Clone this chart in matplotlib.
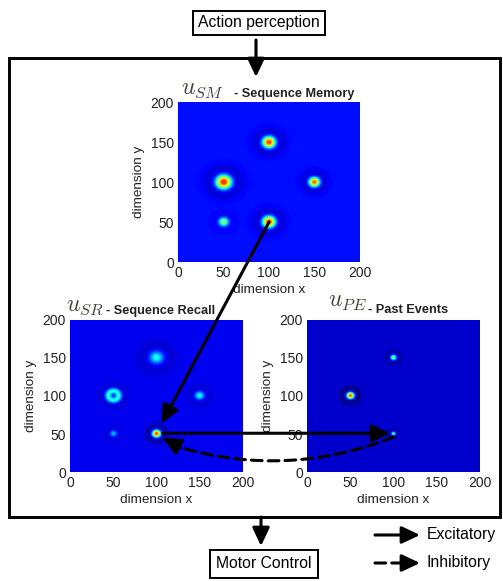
import matplotlib.pyplot as plt
import numpy as np
from matplotlib.patches import Rectangle, ConnectionPatch, FancyArrowPatch

plt.rcParams['font.family'] = ['Liberation Sans', 'DejaVu Sans']
plt.rcParams['mathtext.fontset'] = 'cm'

W, H = 503, 581

# activity bumps: centre x, centre y, peak above baseline, width
SM_X = [100, 50, 150, 50, 100]
SM_Y = [150, 100, 100, 50, 50]
SM_AMP = [0.74, 0.76, 0.70, 0.42, 0.74]
SM_WIDTH = [5.0, 6.0, 4.2, 3.8, 5.0]
SM_RING = [0, 0, 0, 0, 0]
SM_BASE = 0.14

SR_X = [100, 50, 150, 50, 100]
SR_Y = [150, 100, 100, 50, 50]
SR_AMP = [0.30, 0.30, 0.30, 0.22, 0.78]
SR_WIDTH = [6.0, 3.0, 4.0, 3.0, 3.5]
SR_RING = [0, 6, 0, 0, 0]
SR_BASE = 0.10

PE_X = [100, 50, 100]
PE_Y = [150, 100, 50]
PE_AMP = [0.48, 0.8, 0.45]
PE_WIDTH = [2.6, 3.2, 1.8]
PE_RING = [0, 0, 0]
PE_BASE = 0.07

TICKS = [0, 50, 100, 150, 200]


def field(xs, ys, amps, widths, rings, base):
    g = np.arange(0, 201)
    X, Y = np.meshgrid(g, g)
    u = np.full(X.shape, base, dtype=float)
    for cx, cy, a, w, r0 in zip(xs, ys, amps, widths, rings):
        r = np.hypot(X - cx, Y - cy)
        u += a * np.exp(-(r - r0) ** 2 / (2 * w ** 2))
        # lateral inhibition leaves a darker halo around each bump
        u -= 0.11 * a * np.exp(-(r - 2.4 * w - r0) ** 2 / (2 * (1.1 * w) ** 2))
    return u


def px(x, y):
    return x / W, 1 - y / H


def add_axes(l, t, r, b):
    return fig.add_axes([l / W, 1 - b / H, (r - l) / W, (b - t) / H])


def draw_field(ax, u):
    ax.imshow(u, origin='lower', extent=[0, 200, 0, 200], cmap='jet',
              vmin=0, vmax=1, aspect='auto', interpolation='bilinear')
    ax.set_xticks(TICKS)
    ax.set_yticks(TICKS)
    ax.tick_params(length=0, pad=3, labelsize=10, colors='#222222')
    for s in ax.spines.values():
        s.set_visible(False)
    ax.set_xlabel('dimension x', fontsize=9.7, labelpad=3, color='#222222')
    ax.set_ylabel('dimension y', fontsize=9.7, labelpad=4, color='#222222')


fig = plt.figure(figsize=(W / 100, H / 100), dpi=100)
fig.patch.set_facecolor('white')

ax_sm = add_axes(178, 102, 360, 262)
ax_sr = add_axes(70, 320, 243, 472)
ax_pe = add_axes(307, 320, 480, 472)

draw_field(ax_sm, field(SM_X, SM_Y, SM_AMP, SM_WIDTH, SM_RING, SM_BASE))
draw_field(ax_sr, field(SR_X, SR_Y, SR_AMP, SR_WIDTH, SR_RING, SR_BASE))
draw_field(ax_pe, field(PE_X, PE_Y, PE_AMP, PE_WIDTH, PE_RING, PE_BASE))

# panel titles
u_col = '#4a423a'
fig.text(*px(181, 94), r'$u_{SM}$', fontsize=17, color=u_col, va='baseline')
fig.text(*px(234, 97), '- Sequence Memory', fontsize=9.2, fontweight='bold',
         color='#222222', va='baseline')
fig.text(*px(66, 311), r'$u_{SR}$', fontsize=17, color=u_col, va='baseline')
fig.text(*px(106, 314), '- Sequence Recall', fontsize=9.2, fontweight='bold',
         color='#222222', va='baseline')
fig.text(*px(328, 307), r'$u_{PE}$', fontsize=17, color=u_col, va='baseline')
fig.text(*px(368, 313), '- Past Events', fontsize=9.2, fontweight='bold',
         color='#222222', va='baseline')

# outer frame
x0, y0 = px(9, 517)
x1, y1 = px(500, 58)
fig.add_artist(Rectangle((x0, y0), x1 - x0, y1 - y0, transform=fig.transFigure,
                         fill=False, lw=2.1, ec='black'))

# input / output boxes
box = dict(boxstyle='square,pad=0.3', fc='white', ec='black', lw=1.4)
fig.text(*px(259, 23), 'Action perception', fontsize=11.3, ha='center', va='center', bbox=box)
fig.text(*px(264, 564), 'Motor Control', fontsize=11.3, ha='center', va='center',
         bbox=dict(boxstyle='square,pad=0.4', fc='white', ec='black', lw=1.4))

head = '-|>,head_length=0.55,head_width=0.26'
solid = dict(arrowstyle=head, mutation_scale=20, lw=2.2, color='black')


def fig_arrow(p0, p1, **kw):
    fig.add_artist(FancyArrowPatch(px(*p0), px(*p1), transform=fig.transFigure,
                                   shrinkA=0, shrinkB=0, **kw))


fig_arrow((256, 40), (256, 77), **solid)
fig_arrow((261, 517), (261, 546), **solid)

# connections between the fields
fig.add_artist(ConnectionPatch((100, 50), (106, 64), coordsA=ax_sm.transData,
                               coordsB=ax_sr.transData, **solid))
fig.add_artist(ConnectionPatch((107, 51), (96, 51), coordsA=ax_sr.transData,
                               coordsB=ax_pe.transData, **solid))
fig.add_artist(ConnectionPatch((100, 46), (128, 32), coordsA=ax_pe.transData,
                               coordsB=ax_sr.transData, arrowstyle='-',
                               connectionstyle='arc3,rad=-0.17', linestyle=(0, (3.5, 2)),
                               lw=2.2, color='black'))
fig.add_artist(ConnectionPatch((128, 32), (107, 45), coordsA=ax_sr.transData,
                               coordsB=ax_sr.transData, **solid))

# legend
fig_arrow((375, 535), (420, 535), **solid)
fig_arrow((375, 563), (404, 563), arrowstyle='-', lw=2.2, color='black',
          linestyle=(0, (3.5, 2)))
fig_arrow((403, 563), (420, 563), **solid)
fig.text(*px(427, 535), 'Excitatory', fontsize=11.3, va='center')
fig.text(*px(427, 563), 'Inhibitory', fontsize=11.3, va='center')

plt.savefig('out.png', dpi=100, facecolor='white')
